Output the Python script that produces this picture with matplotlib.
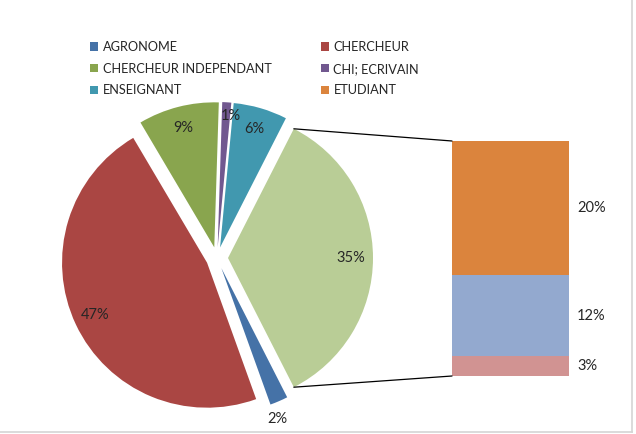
import numpy as np
import matplotlib
matplotlib.use("Agg")
import matplotlib.pyplot as plt
from matplotlib.patches import Patch, ConnectionPatch
from matplotlib.lines import Line2D

plt.rcParams['font.family'] = ['Lato', 'DejaVu Sans']

# pie part (last value is the "other" slice split into the bar)
pie_labels = ['AGRONOME', 'CHERCHEUR', 'CHERCHEUR INDEPENDANT', 'CHI; ECRIVAIN', 'ENSEIGNANT', 'Autre']
pie_values = [2, 47, 9, 1, 6, 35]
pie_colors = ['#4572A7', '#AA4643', '#89A54E', '#71588F', '#4198AF', '#B9CD96']

# bar part, bottom to top
bar_values = [3, 12, 20]
bar_colors = ['#D19392', '#93A9CF', '#DB843D']

legend_labels = ['AGRONOME', 'CHERCHEUR', 'CHERCHEUR INDEPENDANT', 'CHI; ECRIVAIN', 'ENSEIGNANT', 'ETUDIANT']
legend_colors = ['#4572A7', '#AA4643', '#89A54E', '#71588F', '#4198AF', '#DB843D']

W, H = 636, 434
fig = plt.figure(figsize=(W / 100, H / 100), dpi=100)

# pie axes in pixel units
ax = fig.add_axes([0, 0, 1, 1])

R = 145
cx, cy = 217, H - 258
wedges, texts, autotexts = ax.pie(
    pie_values, colors=pie_colors, startangle=-63, counterclock=False,
    explode=[11] * len(pie_values), radius=R, center=(cx, cy),
    autopct='%1.0f%%', pctdistance=0.85, frame=True,
    textprops=dict(fontsize=10.5, color='#262626'))
ax.set_xlim(0, W)
ax.set_ylim(0, H)
ax.set_aspect('equal')
ax.axis('off')

# move the small labels
for i, d, shift in [(0, 1.11, -3), (3, 0.91, -2)]:
    w = wedges[i]
    th = np.deg2rad((w.theta1 + w.theta2) / 2 + shift)
    wx, wy = w.center
    autotexts[i].set_position((wx + d * R * np.cos(th), wy + d * R * np.sin(th)))

# bar of the split slice
bax = fig.add_axes([452 / W, (H - 376) / H, 117 / W, 235 / H])
bottom = 0
for v, c in zip(bar_values, bar_colors):
    bax.bar(0, v, bottom=bottom, width=1, color=c)
    bax.text(0.57, bottom + v / 2, f'{v}%', fontsize=10.5, color='#262626',
             va='center', ha='left')
    bottom += v
bax.set_xlim(-0.5, 0.5)
bax.set_ylim(0, sum(bar_values))
bax.axis('off')

# connector lines from the other slice to the bar
ow = wedges[-1]
ox, oy = ow.center
for ang, yb in [(ow.theta2, sum(bar_values)), (ow.theta1, 0)]:
    t = np.deg2rad(ang)
    con = ConnectionPatch(xyA=(ox + R * np.cos(t), oy + R * np.sin(t)), coordsA=ax.transData,
                          xyB=(-0.5, yb), coordsB=bax.transData, color='black', lw=0.9)
    fig.add_artist(con)

# legend (row-major order)
handles = [Patch(facecolor=c) for c in legend_colors]
order = [0, 2, 4, 1, 3, 5]
fig.legend([handles[i] for i in order], [legend_labels[i] for i in order],
           ncol=2, loc='upper left', bbox_to_anchor=(90 / W, 1 - 41 / H),
           frameon=False, fontsize=9.2, handlelength=0.65, handleheight=0.65,
           handletextpad=0.35, columnspacing=3.85, labelspacing=0.76,
           borderpad=0, borderaxespad=0, labelcolor='#262626')

# chart border (right and bottom)
fig.add_artist(Line2D([632 / W, 632 / W], [2 / H, 1], color='#d4d4d4', lw=1.2))
fig.add_artist(Line2D([0, 632 / W], [2 / H, 2 / H], color='#d4d4d4', lw=1.2))

fig.savefig('out.png', dpi=100)
